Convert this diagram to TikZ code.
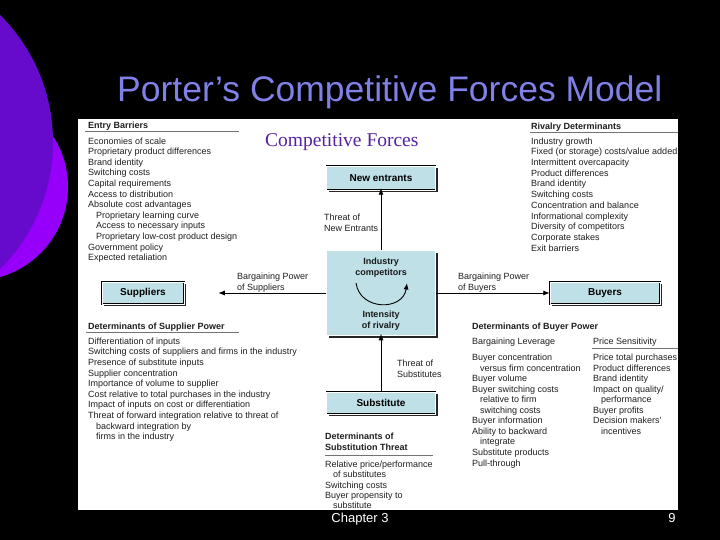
\documentclass[tikz,border=0pt]{standalone}
\usepackage{fontspec}
\setmainfont{Liberation Sans}
\newfontfamily\cfserif{Liberation Serif}
\usetikzlibrary{arrows.meta,shadows}
\definecolor{boxblue}{RGB}{190,224,230}
\definecolor{titleblue}{RGB}{128,128,230}
\definecolor{cfpurple}{RGB}{85,35,160}
\definecolor{violetdark}{RGB}{102,10,204}
\definecolor{violetlight}{RGB}{150,0,250}
\newcommand\ind{\hspace*{8pt}}
\begin{document}
\begin{tikzpicture}[x=1pt,y=-1pt,
  txt/.style={anchor=base west, inner sep=0pt, font=\fontsize{9}{10}\selectfont, text=black!88},
  hdr/.style={txt, font=\fontsize{9}{10}\selectfont\bfseries},
  ctr/.style={anchor=base, inner sep=0pt, font=\fontsize{9}{10}\selectfont\bfseries, text=black!90},
  fbox/.style={draw=black, line width=0.5pt, double=white, double distance=0.7pt, fill=boxblue, inner sep=0pt, font=\fontsize{10}{12}\selectfont\bfseries, drop shadow={shadow xshift=2.2pt, shadow yshift=-2.2pt, fill=black!85, opacity=1}},
  conn/.style={draw=black, line width=0.8pt, -{Latex[length=6.5pt,width=5pt]}},
  rulel/.style={draw=black!55, line width=0.6pt},
]
\fill[black] (0,0) rectangle (720,540);
\useasboundingbox (0,0) rectangle (720,540);
% decorative circles
\fill[violetlight] (-25.6,187) circle (93.6);
\fill[violetdark] (-126,142) circle (179);
% panel
\fill[white] (78,119) rectangle (678,510);
% titles
\node[anchor=base west, inner sep=0pt, text=titleblue, font=\fontsize{35.5}{40}\selectfont] (title) at (117,102) {Porter’s Competitive Forces Model};
\node[anchor=base west, inner sep=0pt, text=cfpurple, font=\cfserif\fontsize{19.5}{22}\selectfont] (cf) at (265,147) {Competitive Forces};
% boxes
\node[fbox, minimum width=109pt, minimum height=24pt] (new) at (381,178) {New entrants};
\node[fbox, minimum width=109pt, minimum height=85pt] (ind) at (381,293) {};
\node[fbox, minimum width=82pt, minimum height=22pt] (sup) at (143,293) {Suppliers};
\node[fbox, minimum width=110pt, minimum height=22pt] (buy) at (605,293) {Buyers};
\node[fbox, minimum width=109pt, minimum height=22pt] (sub) at (381,403) {Substitute};
% industry box texts
\node[ctr] (ic1) at (381,264.5) {Industry};
\node[ctr] (ic2) at (381,275.5) {competitors};
\node[ctr] (ir1) at (381,317.5) {Intensity};
\node[ctr] (ir2) at (381,328) {of rivalry};
\coordinate (cvs) at (356,283);
\coordinate (cve) at (407,283);
\draw[conn, line width=0.9pt] (cvs) .. controls (360,311) and (403,311) .. (cve);
% connectors
\draw[conn, shorten >=-2pt] (ind.north) -- (new.south);
\draw[conn, shorten >=-2pt] (sub.north) -- (ind.south);
\draw[conn, shorten >=34pt] (ind.west) -- (sup.east);
\draw[conn] (ind.east) -- (buy.west);
% connector labels
\node[txt] (tne1) at (324,221) {Threat of};
\node[txt] (tne2) at (324,231.5) {New Entrants};
\node[txt] (ts1) at (397,366.5) {Threat of};
\node[txt] (ts2) at (397,377) {Substitutes};
\node[txt] (bps1) at (237,279.5) {Bargaining Power};
\node[txt] (bps2) at (237,290.5) {of Suppliers};
\node[txt] (bpb1) at (458,279.5) {Bargaining Power};
\node[txt] (bpb2) at (458,290.5) {of Buyers};
% entry barriers
\node[hdr] (ebh) at (88,129) {Entry Barriers};
\draw[rulel] (85,131.5) -- (239,131.5);
\foreach \t [count=\i] in {Economies of scale, Proprietary product differences, Brand identity, Switching costs, Capital requirements, Access to distribution, Absolute cost advantages, \ind Proprietary learning curve, \ind Access to necessary inputs, \ind Proprietary low-cost product design, Government policy, Expected retaliation}
  \node[txt] (eb\i) at (88,{144.2+10.6*(\i-1)}) {\t};
% rivalry determinants
\node[hdr] (rdh) at (531,129.5) {Rivalry Determinants};
\draw[rulel] (530,132) -- (678,132);
\foreach \t [count=\i] in {Industry growth, Fixed (or storage) costs/value added, Intermittent overcapacity, Product differences, Brand identity, Switching costs, Concentration and balance, Informational complexity, Diversity of competitors, Corporate stakes, Exit barriers}
  \node[txt] (rd\i) at (531,{144.2+10.7*(\i-1)}) {\t};
% supplier power
\node[hdr] (sph) at (88,329) {Determinants of Supplier Power};
\draw[rulel] (86,332.5) -- (239,332.5);
\foreach \t [count=\i] in {Differentiation of inputs, Switching costs of suppliers and firms in the industry, Presence of substitute inputs, Supplier concentration, Importance of volume to supplier, Cost relative to total purchases in the industry, Impact of inputs on cost or differentiation, Threat of forward integration relative to threat of, \ind backward integration by, \ind firms in the industry}
  \node[txt] (sp\i) at (88,{344.3+10.6*(\i-1)}) {\t};
% buyer power
\node[hdr] (bph) at (472,329) {Determinants of Buyer Power};
\node[txt] (bl) at (472,344.5) {Bargaining Leverage};
\node[txt] (ps) at (593,344.5) {Price Sensitivity};
\draw[rulel] (592,348.5) -- (678,348.5);
\foreach \t [count=\i] in {Buyer concentration, \ind versus firm concentration, Buyer volume, Buyer switching costs, \ind relative to firm, \ind switching costs, Buyer information, Ability to backward, \ind integrate, Substitute products, Pull-through}
  \node[txt] (bl\i) at (472,{360.5+10.55*(\i-1)}) {\t};
\foreach \t [count=\i] in {Price total purchases, Product differences, Brand identity, Impact on quality/, \ind performance, Buyer profits, Decision makers', \ind incentives}
  \node[txt] (ps\i) at (593,{360.5+10.55*(\i-1)}) {\t};
% substitution threat
\node[hdr] (sth1) at (325,439.5) {Determinants of};
\node[hdr] (sth2) at (325,450.5) {Substitution Threat};
\draw[rulel] (325,455) -- (433,455);
\foreach \t [count=\i] in {Relative price/performance, \ind of substitutes, Switching costs, Buyer propensity to, \ind substitute}
  \node[txt] (st\i) at (325,{467.2+10.4*(\i-1)}) {\t};
% footer
\node[anchor=base, inner sep=0pt, text=white, font=\fontsize{13}{15}\selectfont] (ch) at (360,522) {Chapter 3};
\node[anchor=base, inner sep=0pt, text=white, font=\fontsize{13}{15}\selectfont] (pg) at (672,522) {9};
\end{tikzpicture}
\end{document}
